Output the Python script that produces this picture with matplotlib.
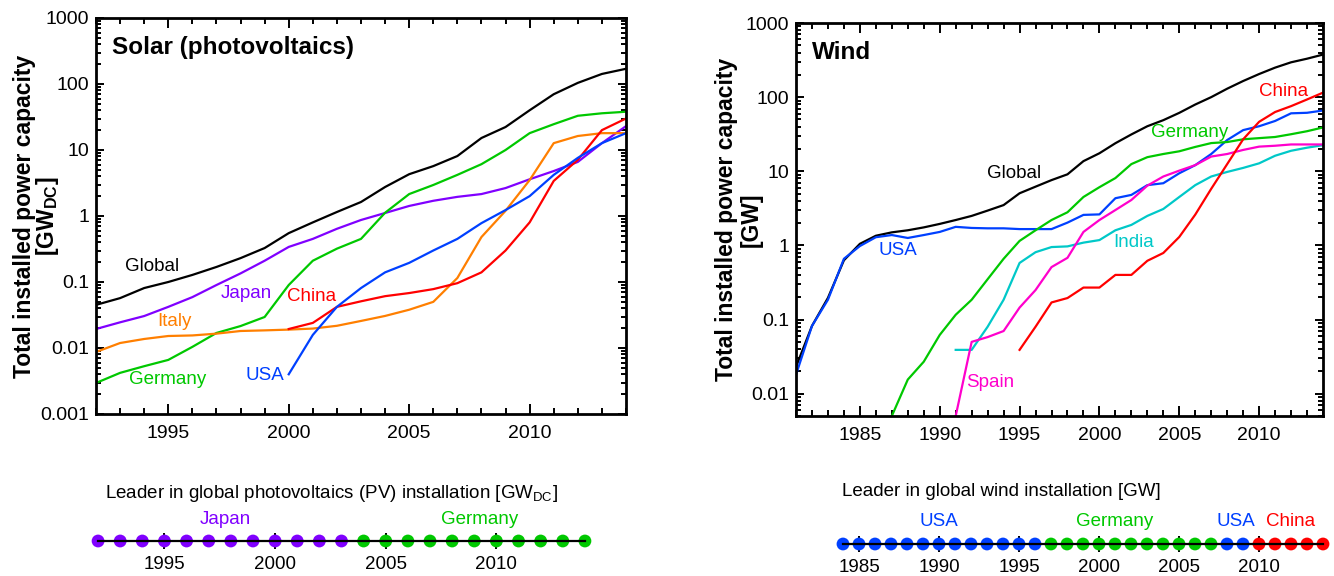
"""Installed solar and wind capacity by country, with yearly leaders."""

import matplotlib

matplotlib.use("Agg")
import matplotlib.pyplot as plt
import numpy as np
from matplotlib.ticker import FixedLocator, FuncFormatter, LogLocator, NullFormatter

plt.rcParams["font.family"] = ["Liberation Sans", "DejaVu Sans"]
plt.rcParams["mathtext.fontset"] = "custom"
plt.rcParams["mathtext.rm"] = "Liberation Sans"
plt.rcParams["mathtext.bf"] = "Liberation Sans:bold"

# ---- solar (GW_DC), 1992-2014 ----
solar_years = list(range(1992, 2015))
solar_global = [0.045, 0.057, 0.081, 0.10, 0.128, 0.169, 0.23, 0.327, 0.55, 0.80, 1.15,
                1.63, 2.75, 4.3, 5.7, 8.1, 15.2, 22.3, 40, 70, 104, 142, 170]
solar_japan = [0.0194, 0.0245, 0.0305, 0.042, 0.059, 0.09, 0.135, 0.21, 0.34, 0.45, 0.64,
               0.87, 1.11, 1.42, 1.7, 1.95, 2.15, 2.65, 3.6, 4.8, 6.6, 12.7, 23]
solar_germany = [0.00295, 0.0042, 0.0053, 0.0066, 0.0104, 0.0169, 0.0215, 0.0295, 0.09, 0.21,
                 0.32, 0.45, 1.12, 2.15, 2.95, 4.2, 6.1, 10, 18, 24.6, 33, 36, 38]
solar_italy = [0.0087, 0.0119, 0.0137, 0.0152, 0.0155, 0.0165, 0.0181, 0.0185, 0.019, 0.0197,
               0.0217, 0.0257, 0.0306, 0.038, 0.05, 0.115, 0.48, 1.2, 3.5, 12.7, 16.3, 18, 18]
china_solar_years = list(range(2000, 2015))
solar_china = [0.0194, 0.024, 0.042, 0.051, 0.061, 0.068, 0.078, 0.096, 0.14, 0.3, 0.8,
               3.4, 7.1, 20, 30]
usa_solar_years = list(range(2000, 2015))
solar_usa = [0.004, 0.0158, 0.042, 0.081, 0.14, 0.195, 0.3, 0.45, 0.78, 1.23, 2.0,
             4.2, 7.6, 12.7, 18]

# ---- wind (GW) ----
wind_global_years = list(range(1981, 2015))
wind_global = [0.023, 0.082, 0.196, 0.63, 1.05, 1.35, 1.5, 1.6, 1.75, 1.95, 2.2, 2.5, 2.95,
               3.5, 5.05, 6.2, 7.6, 9.1, 13.7, 17.5, 23.9, 31.4, 40.5, 48.9, 61.4, 79.5,
               100, 130, 165, 205, 250, 295, 330, 375]
wind_usa = [0.018, 0.082, 0.185, 0.66, 0.98, 1.29, 1.38, 1.26, 1.38, 1.52, 1.78, 1.72, 1.7,
            1.7, 1.66, 1.66, 1.66, 2.03, 2.58, 2.62, 4.33, 4.8, 6.5, 6.9, 9.4, 12.1, 17.1,
            26.4, 35.9, 40.5, 47.7, 60.5, 61.5, 66]
germany_wind_years = list(range(1987, 2015))
wind_germany = [0.005, 0.0155, 0.027, 0.062, 0.116, 0.185, 0.35, 0.66, 1.15, 1.6, 2.2, 2.8,
                4.5, 6.1, 8.1, 12.5, 15.5, 17.1, 18.6, 21.3, 24, 24.8, 27, 28, 29, 31.6,
                34.7, 39]
india_wind_years = list(range(1991, 2015))
wind_india = [0.039, 0.039, 0.08, 0.185, 0.58, 0.81, 0.95, 0.97, 1.09, 1.18, 1.6, 1.89,
              2.5, 3.1, 4.5, 6.5, 8.5, 9.8, 11.1, 12.8, 16.2, 18.9, 20.8, 22.5]
spain_wind_years = list(range(1991, 2015))
wind_spain = [0.005, 0.05, 0.058, 0.07, 0.145, 0.25, 0.51, 0.68, 1.52, 2.2, 3.0, 4.1, 6.4,
              8.5, 10.2, 12.1, 15.8, 17.1, 19.4, 21.5, 22.1, 23, 23, 23]
china_wind_years = list(range(1995, 2015))
wind_china = [0.039, 0.08, 0.17, 0.195, 0.27, 0.27, 0.40, 0.40, 0.62, 0.79, 1.3, 2.6, 5.8,
              12.5, 27, 46.5, 63, 75.6, 93, 115]

# ---- yearly leaders ----
pv_leader_years = list(range(1992, 2015))
pv_leaders = ["Japan", "Japan", "Japan", "Japan", "Japan", "Japan", "Japan", "Japan",
              "Japan", "Japan", "Japan", "Japan", "Germany", "Germany", "Germany",
              "Germany", "Germany", "Germany", "Germany", "Germany", "Germany", "Germany",
              "Germany"]
wind_leader_years = list(range(1984, 2015))
wind_leaders = ["USA", "USA", "USA", "USA", "USA", "USA", "USA", "USA", "USA", "USA", "USA",
                "USA", "USA", "Germany", "Germany", "Germany", "Germany", "Germany",
                "Germany", "Germany", "Germany", "Germany", "Germany", "Germany", "USA",
                "USA", "China", "China", "China", "China", "China"]

COLORS = {
    "Global": "#000000",
    "Japan": "#8000ff",
    "Germany": "#00c800",
    "Italy": "#ff7f00",
    "China": "#ff0000",
    "USA": "#0040ff",
    "India": "#00c8c8",
    "Spain": "#ff00cc",
}
LW = 1.6
LABEL_FS = 13.5
TICK_FS = 14


def style_main_axes(ax, xmajor, xlim, ylim, ylabels):
    ax.set_yscale("log")
    ax.set_xlim(*xlim)
    ax.set_ylim(*ylim)
    ax.xaxis.set_major_locator(FixedLocator(xmajor))
    ax.xaxis.set_minor_locator(FixedLocator(np.arange(xlim[0], xlim[1] + 1)))
    ax.yaxis.set_major_locator(FixedLocator(ylabels))
    ax.yaxis.set_minor_locator(LogLocator(base=10, subs=np.arange(2, 10)))
    ax.yaxis.set_minor_formatter(NullFormatter())
    ax.yaxis.set_major_formatter(FuncFormatter(lambda v, _: f"{v:g}"))
    ax.tick_params(which="both", direction="in", top=True, right=True, width=1.4,
                   labelsize=TICK_FS, colors="black")
    ax.tick_params(axis="x", which="major", length=7, pad=8)
    ax.tick_params(axis="x", which="minor", length=4)
    ax.tick_params(axis="y", which="major", length=6, pad=5)
    ax.tick_params(axis="y", which="minor", length=3.5)
    for spine in ax.spines.values():
        spine.set_linewidth(2)


def two_line_ylabel(ax, first, second, x1, x2):
    ax.text(x1, 0.5, first, transform=ax.transAxes, rotation=90, fontsize=16.5,
            fontweight="bold", ha="center", va="center")
    ax.text(x2, 0.5, second, transform=ax.transAxes, rotation=90, fontsize=16.5,
            fontweight="bold", ha="center", va="center")


def leader_strip(ax, years, leaders, xlim, xmajor):
    ax.set_xlim(*xlim)
    ax.set_ylim(-1, 1)
    for side in ["left", "right", "top"]:
        ax.spines[side].set_visible(False)
    ax.spines["bottom"].set_position(("data", 0))
    ax.spines["bottom"].set_visible(False)
    ax.set_yticks([])
    ax.set_xticks(xmajor)
    ax.tick_params(axis="x", direction="inout", length=11, width=1.4, pad=5,
                   labelsize=13.5)
    ax.plot(years, np.zeros(len(years)), color="black", lw=1.6, zorder=2)
    ax.scatter(years, np.zeros(len(years)), c=[COLORS[c] for c in leaders], s=85,
               zorder=1.8, linewidths=0)
    ax.patch.set_visible(False)


fig = plt.figure(figsize=(13.34, 5.76), dpi=100)

# ---- solar panel ----
ax1 = fig.add_axes([96 / 1334, 1 - 414 / 576, 530 / 1334, 396 / 576])
ax1.plot(solar_years, solar_global, color=COLORS["Global"], lw=LW)
ax1.plot(solar_years, solar_japan, color=COLORS["Japan"], lw=LW)
ax1.plot(solar_years, solar_germany, color=COLORS["Germany"], lw=LW)
ax1.plot(solar_years, solar_italy, color=COLORS["Italy"], lw=LW)
ax1.plot(china_solar_years, solar_china, color=COLORS["China"], lw=LW)
ax1.plot(usa_solar_years, solar_usa, color=COLORS["USA"], lw=LW)
style_main_axes(ax1, [1995, 2000, 2005, 2010], (1992, 2014), (0.001, 1000),
                [0.001, 0.01, 0.1, 1, 10, 100, 1000])
two_line_ylabel(ax1, "Total installed power capacity", "[GW$_{\\mathbf{DC}}$]",
                -0.1358, -0.0906)
ax1.text(0.03, 0.925, "Solar (photovoltaics)", transform=ax1.transAxes,
         fontsize=17.5, fontweight="bold", va="center", ha="left")
solar_labels = [("Global", 1994.32, 0.169), ("Japan", 1998.22, 0.0658),
                ("Italy", 1995.24, 0.0248), ("China", 2000.96, 0.0593),
                ("Germany", 1994.99, 0.00339), ("USA", 1999.01, 0.00377)]
for name, x, y in solar_labels:
    ax1.text(x, y, name, color=COLORS[name], fontsize=LABEL_FS, ha="center", va="center")

# ---- wind panel ----
ax2 = fig.add_axes([796 / 1334, 1 - 416 / 576, 527 / 1334, 393 / 576])
ax2.plot(wind_global_years, wind_global, color=COLORS["Global"], lw=LW)
ax2.plot(wind_global_years, wind_usa, color=COLORS["USA"], lw=LW)
ax2.plot(germany_wind_years, wind_germany, color=COLORS["Germany"], lw=LW)
ax2.plot(india_wind_years, wind_india, color=COLORS["India"], lw=LW)
ax2.plot(spain_wind_years, wind_spain, color=COLORS["Spain"], lw=LW)
ax2.plot(china_wind_years, wind_china, color=COLORS["China"], lw=LW)
style_main_axes(ax2, [1985, 1990, 1995, 2000, 2005, 2010], (1981, 2014), (0.005, 1000),
                [0.01, 0.1, 1, 10, 100, 1000])
two_line_ylabel(ax2, "Total installed power capacity", "[GW]", -0.131, -0.0854)
ax2.text(0.03, 0.925, "Wind", transform=ax2.transAxes, fontsize=17.5, fontweight="bold",
         va="center", ha="left")
wind_labels = [("Global", 1994.65, 9.47), ("Germany", 2005.67, 33.8),
               ("China", 2011.56, 120), ("USA", 1987.39, 0.843),
               ("India", 2002.16, 1.08), ("Spain", 1993.15, 0.0141)]
for name, x, y in wind_labels:
    ax2.text(x, y, name, color=COLORS[name], fontsize=LABEL_FS, ha="center", va="center")

# ---- leader strips ----
s1 = fig.add_axes([87 / 1334, 1 - 581 / 576, 509 / 1334, 80 / 576])
leader_strip(s1, pv_leader_years, pv_leaders, (1991.5, 2014.5), [1995, 2000, 2005, 2010])
s1.text(1997.74, 0.55, "Japan", color=COLORS["Japan"], fontsize=13.5, ha="center",
        va="center")
s1.text(2009.25, 0.55, "Germany", color=COLORS["Germany"], fontsize=13.5, ha="center",
        va="center")
fig.text(105 / 1334, 1 - 493 / 576,
         "Leader in global photovoltaics (PV) installation [GW$_{\\mathregular{DC}}$]",
         fontsize=13.5, ha="left", va="center")

s2 = fig.add_axes([835 / 1334, 1 - 584 / 576, 496 / 1334, 80 / 576])
leader_strip(s2, wind_leader_years, wind_leaders, (1983.5, 2014.5),
             [1985, 1990, 1995, 2000, 2005, 2010])
for name, x in [("USA", 1990.0), ("Germany", 2001.0), ("USA", 2008.56), ("China", 2012.0)]:
    s2.text(x, 0.575, name, color=COLORS[name], fontsize=13.5, ha="center", va="center")
fig.text(842 / 1334, 1 - 492 / 576, "Leader in global wind installation [GW]",
         fontsize=13.5, ha="left", va="center")

fig.savefig("out.png", dpi=100)
plt.close(fig)
